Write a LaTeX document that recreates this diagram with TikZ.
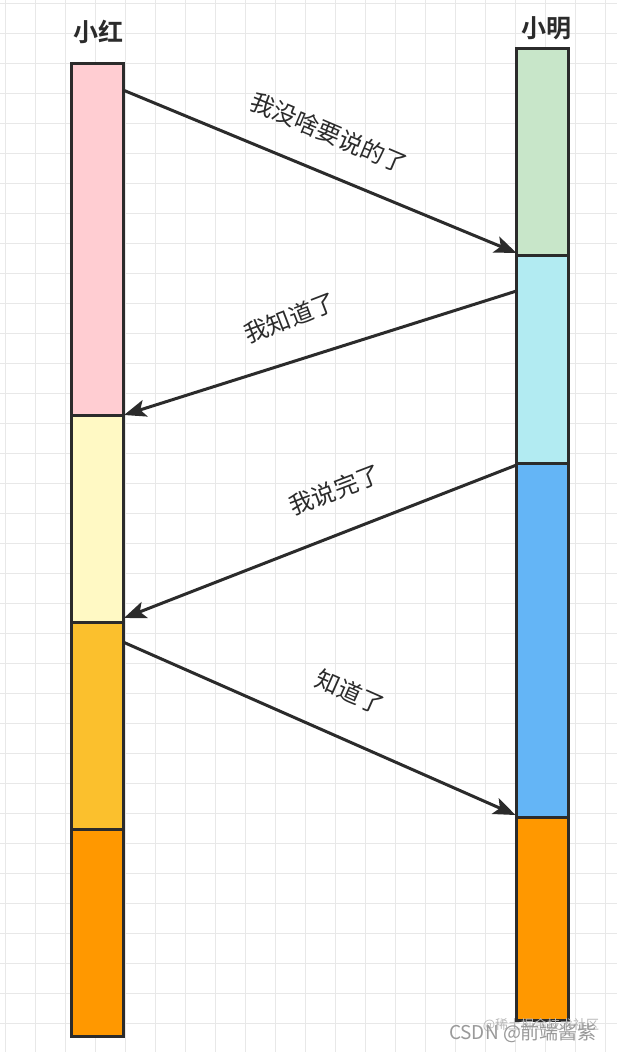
\documentclass[tikz,border=0pt]{standalone}
\usepackage{fontspec}
\newfontfamily\cjk{Noto Sans CJK SC}
\newfontfamily\cjkb{Noto Sans CJK SC Bold}
\usetikzlibrary{arrows.meta,calc}
\definecolor{edge}{HTML}{2B2B2B}
\definecolor{gridc}{HTML}{E8E8E8}
\definecolor{cpink}{HTML}{FFCDD2}
\definecolor{cyellow}{HTML}{FFF9C4}
\definecolor{camber}{HTML}{FBC02D}
\definecolor{corange}{HTML}{FF9800}
\definecolor{cgreen}{HTML}{C8E6C9}
\definecolor{ccyan}{HTML}{B2EBF2}
\definecolor{cblue}{HTML}{64B5F6}
\tikzset{
  seg/.style={draw=edge, line width=3pt, minimum width=52pt, inner sep=0pt, outer sep=0pt},
  msg/.style={draw=edge, line width=3pt, -{Stealth[length=22pt,width=17pt,inset=5pt]}},
  lbl/.style={font=\cjk\fontsize{24}{24}\selectfont, text=edge, inner sep=0pt},
  ttl/.style={font=\cjkb\fontsize{25}{25}\selectfont, text=edge, inner sep=0pt},
}
\begin{document}
\begin{tikzpicture}[x=1pt,y=-1pt]
\useasboundingbox (0,0) rectangle (617,1052);
\fill[white] (0,0) rectangle (617,1052);
% grid
\foreach \i in {0,...,20} { \draw[gridc, line width=1pt] (5+30*\i,0) -- (5+30*\i,1052); }
\foreach \j in {0,...,35} { \draw[gridc, line width=1pt] (0,3+30*\j) -- (617,3+30*\j); }
% titles
\node[ttl] (tl) at (98,32) {小红};
\node[ttl] (tr) at (546,28) {小明};
% left column
\node[seg, fill=cpink,   minimum height=352pt] (L1) at (97,239) {};
\node[seg, fill=cyellow, minimum height=207pt] (L2) at (97,518.5) {};
\node[seg, fill=camber,  minimum height=207pt] (L3) at (97,725.5) {};
\node[seg, fill=corange, minimum height=207pt] (L4) at (97,932.5) {};
% right column
\node[seg, fill=cgreen,  minimum height=207pt] (R1) at (542.5,151.5) {};
\node[seg, fill=ccyan,   minimum height=208pt] (R2) at (542.5,359) {};
\node[seg, fill=cblue,   minimum height=354pt] (R3) at (542.5,640) {};
\node[seg, fill=corange, minimum height=203pt] (R4) at (542.5,918.5) {};
% connector end points
\coordinate (a1s) at ($(L1.north east)+(0,27)$);
\coordinate (a1e) at ($(R1.south west)+(0,-2)$);
\coordinate (a2s) at ($(R2.north west)+(0,36)$);
\coordinate (a2e) at ($(L1.south east)+(1,0)$);
\coordinate (a3s) at ($(R3.north west)+(0,2)$);
\coordinate (a3e) at ($(L3.north east)+(1,-4)$);
\coordinate (a4s) at ($(L3.north east)+(0,20)$);
\coordinate (a4e) at ($(R4.north west)+(-1,-2)$);
\draw[msg] (a1s) -- (a1e);
\draw[msg] (a2s) -- (a2e);
\draw[msg] (a3s) -- (a3e);
\draw[msg] (a4s) -- (a4e);
% labels
\node[lbl, rotate=-23] (m1) at (329,133) {我没啥要说的了};
\node[lbl, rotate=21] (m2) at (290,318) {我知道了};
\node[lbl, rotate=21] (m3) at (335,490) {我说完了};
\node[lbl, rotate=-24] (m4) at (350,692) {知道了};
% watermark
\node[font=\cjk\fontsize{13}{13}\selectfont, text=gray!55, inner sep=0pt] (w2) at (541,1025) {@稀土掘金技术社区};
\node[font=\cjk\fontsize{19}{19}\selectfont, text=gray!80, inner sep=0pt] (w1) at (523,1033) {CSDN @前端酱紫};
\end{tikzpicture}
\end{document}
